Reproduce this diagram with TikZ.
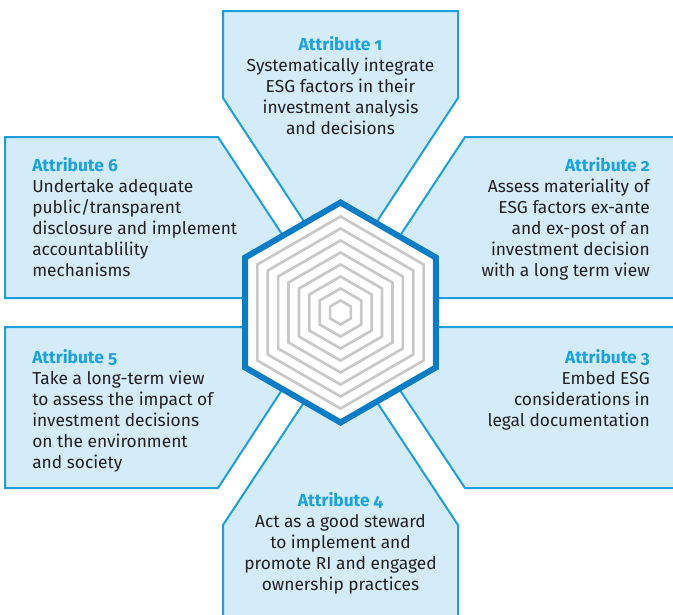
\documentclass[tikz,border=0pt]{standalone}
\usepackage{fontspec}
\setmainfont{Fira Sans}[Numbers=OldStyle]
\usepackage{tikz}
\definecolor{panelfill}{HTML}{D4EBFA}
\definecolor{panelline}{HTML}{1C9FDB}
\definecolor{rimblue}{HTML}{0A7DC6}
\definecolor{ringgray}{HTML}{C8C8C8}
\definecolor{headblue}{HTML}{1AA3DF}
\definecolor{inkgray}{HTML}{231F20}
\newcommand{\attrhead}[1]{{\bfseries\color{headblue}Attribute #1}}

\begin{document}
\begin{tikzpicture}[x=0.75pt,y=-0.75pt,
    panel/.style={draw=panelline,fill=panelfill,line width=1.5pt},
    ring/.style={draw=ringgray,line width=2pt},
    rim/.style={draw=rimblue,fill=white,line width=4.5pt},
    blurb/.style={inner sep=0pt,text=inkgray,font=\fontsize{13}{15.75}\selectfont}]
        \useasboundingbox (0,0) rectangle (673,614);
        \clip (0,0) rectangle (673,614);
        \coordinate (hub) at (340.5,312.5);
        % six panels round the hub
        \draw[panel] (223,11)--(458,11)--(458,98)--(340.5,277)--(223,98)--cycle;
        \draw[panel] (465,137)--(690,137)--(690,298)--(359,298)--cycle;
        \draw[panel] (358,327)--(690,327)--(690,488)--(465,488)--cycle;
        \draw[panel] (223,630)--(223,525)--(340.5,347)--(458,525)--(458,630)--cycle;
        \draw[panel] (5,327)--(323,327)--(218,488)--(5,488)--cycle;
        \draw[panel] (5,137)--(218,137)--(324,298)--(5,298)--cycle;
        % hexagon
        \draw[rim] (hub) +(90:110)--+(150:110)--+(210:110)--+(270:110)--+(330:110)--+(30:110)--cycle;
        \foreach \r in {12,24,...,96}
            \draw[ring] (hub) +(90:\r)--+(150:\r)--+(210:\r)--+(270:\r)--+(330:\r)--+(30:\r)--cycle;
        \node[blurb,align=center,anchor=north] (attOne) at (340.5,36.5) {\attrhead{1}\\Systematically integrate\\ESG factors in their\\investment analysis\\and decisions};
        \node[blurb,align=right,anchor=north east] (attTwo) at (650,157.5) {\attrhead{2}\\Assess materiality of\\ESG factors ex-ante\\and ex-post of an\\investment decision\\with a long term view};
        \node[blurb,align=right,anchor=north east] (attThree) at (650,349.5) {\attrhead{3}\\Embed ESG\\considerations in\\legal documentation};
        \node[blurb,align=center,anchor=north] (attFour) at (340.5,492.5) {\attrhead{4}\\Act as a good steward\\to implement and\\promote RI and engaged\\ownership practices};
        \node[blurb,align=left,anchor=north west] (attFive) at (32,349.5) {\attrhead{5}\\Take a long-term view\\to assess the impact of\\investment decisions\\on the environment\\and society};
        \node[blurb,align=left,anchor=north west] (attSix) at (32,157.5) {\attrhead{6}\\Undertake adequate\\public/transparent\\disclosure and implement\\accountablility\\mechanisms};
    \end{tikzpicture}
\end{document}
